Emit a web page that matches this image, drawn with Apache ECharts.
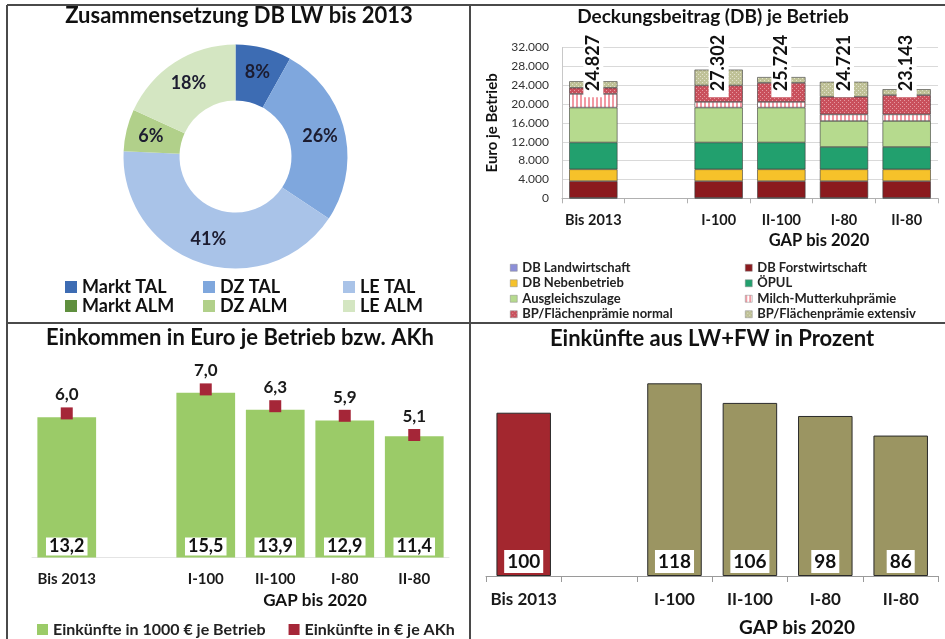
<!DOCTYPE html>
<html>
<head>
<meta charset="utf-8">
<script src="https://cdn.jsdelivr.net/npm/echarts@6/dist/echarts.min.js"></script>
<style>
  html, body { margin: 0; padding: 0; background: #fff; }
  #chart { width: 945px; height: 639px; }
</style>
</head>
<body>
<div id="chart"></div>
<script>
// Zusammensetzung DB LW bis 2013 (Prozent)
const anteilNamen = ['Markt TAL', 'DZ TAL', 'LE TAL', 'Markt ALM', 'DZ ALM', 'LE ALM'];
const anteilWerte = [8, 26, 41, 0, 6, 18];

// Deckungsbeitrag je Betrieb (Euro)
const kategorien = ['Bis 2013', '', 'I-100', 'II-100', 'I-80', 'II-80'];
const dbLandwirtschaft = [100, null, 100, 100, 100, 100];
const dbForst = [3550, null, 3550, 3550, 3550, 3550];
const dbNeben = [2500, null, 2500, 2500, 2500, 2500];
const oepul = [5700, null, 5700, 5700, 4750, 4750];
const ausgleich = [7400, null, 7400, 7400, 5500, 5500];
const milch = [2900, null, 1200, 1200, 1400, 1400];
const bpNormal = [1300, null, 3500, 4050, 3750, 4100];
const bpExtensiv = [1377, null, 3352, 1224, 3171, 1243];
const dbSumme = [24827, null, 27302, 25724, 24721, 23143];
const dbTicks = ['0', '4.000', '8.000', '12.000', '16.000', '20.000', '24.000', '28.000', '32.000'];

// Einkommen
const einkBetrieb = [13.2, null, 15.5, 13.9, 12.9, 11.4];
const einkAKh = [6.0, null, 7.0, 6.3, 5.9, 5.1];

// Einkuenfte in Prozent
const einkProzent = [100, null, 118, 106, 98, 86];

const schrift = 'Lato, "Open Sans", sans-serif';

function muster(grund, zeichnen) {
    const c = document.createElement('canvas');
    c.width = 4;
    c.height = 4;
    const ctx = c.getContext('2d');
    ctx.fillStyle = grund;
    ctx.fillRect(0, 0, 4, 4);
    zeichnen(ctx);
    return { image: c, repeat: 'repeat' };
}

const milchMuster = muster('#f29aa3', ctx => {
    ctx.fillStyle = '#ffffff';
    ctx.fillRect(2, 0, 2, 4);
});
const normalMuster = muster('#c9505c', ctx => {
    ctx.fillStyle = '#e59aa2';
    ctx.fillRect(0, 0, 1, 1);
    ctx.fillRect(2, 2, 1, 1);
});
const extensivMuster = muster('#bfc197', ctx => {
    ctx.fillStyle = '#e2e2cc';
    ctx.fillRect(0, 0, 1, 1);
    ctx.fillRect(2, 2, 1, 1);
});

const tausend = v => String(v).replace(/\B(?=(\d{3})+(?!\d))/g, '.');
const komma = v => v.toFixed(1).replace('.', ',');

const stapel = [
    ['DB Landwirtschaft', dbLandwirtschaft, '#8c8fd8'],
    ['DB Forstwirtschaft', dbForst, '#8b1a1e'],
    ['DB Nebenbetrieb', dbNeben, '#f6c22a'],
    ['ÖPUL', oepul, '#22a06e'],
    ['Ausgleichszulage', ausgleich, '#b6da8e'],
    ['Milch-Mutterkuhprämie', milch, milchMuster],
    ['BP/Flächenprämie normal', bpNormal, normalMuster],
    ['BP/Flächenprämie extensiv', bpExtensiv, extensivMuster]
];

const stapelSerien = stapel.map(([name, werte, farbe]) => ({
    name,
    type: 'bar',
    stack: 'db',
    xAxisIndex: 0,
    yAxisIndex: 0,
    barCategoryGap: '23%',
    data: werte,
    itemStyle: { color: farbe, borderColor: '#3a3a3a', borderWidth: 0.6 }
}));

const titel = (text, x, y, size) => ({
    text,
    left: x,
    top: y,
    textAlign: 'center',
    padding: 0,
    textStyle: { fontFamily: schrift, fontWeight: 'bold', fontSize: size, color: '#111' }
});

const gapText = (x, y, size) => ({
    type: 'text',
    style: {
        text: 'GAP bis 2020', x, y,
        textAlign: 'center', textVerticalAlign: 'middle',
        font: 'bold ' + size + 'px ' + schrift, fill: '#111'
    }
});

const linie = (x1, y1, x2, y2) => ({
    type: 'line',
    shape: { x1, y1, x2, y2 },
    style: { stroke: '#4a4a4a', lineWidth: 2 }
});

const kategorieAchse = (grid, farbe, tick, size, margin) => ({
    type: 'category',
    gridIndex: grid,
    data: kategorien,
    axisLine: { lineStyle: { color: farbe } },
    axisTick: { show: tick > 0, length: tick, lineStyle: { color: farbe } },
    axisLabel: { interval: 0, fontFamily: schrift, fontWeight: 'bold', fontSize: size, color: '#1a1a1a', margin }
});

const pieLegende = (namen, x) => ({
    orient: 'vertical',
    left: x,
    top: 277.5,
    padding: 0,
    itemWidth: 12,
    itemHeight: 12,
    itemGap: 0,
    itemTextGap: 7,
    icon: 'rect',
    data: namen,
    textStyle: { fontFamily: schrift, fontWeight: 'bold', fontSize: 18, color: '#111', lineHeight: 19 }
});

const dbLegende = (namen, x) => ({
    orient: 'vertical',
    left: x,
    top: 260,
    padding: 0,
    itemWidth: 7,
    itemHeight: 7,
    itemGap: 0,
    itemTextGap: 3,
    icon: 'rect',
    data: namen,
    itemStyle: { borderColor: '#888', borderWidth: 0.5 },
    textStyle: { fontFamily: schrift, fontWeight: 'bold', fontSize: 13, color: '#222', lineHeight: 15.5 }
});

const option = {
    animation: false,
    backgroundColor: '#fff',
    title: [
        titel('Zusammensetzung DB LW bis 2013', 239, 5, 22),
        titel('Deckungsbeitrag (DB) je Betrieb', 713, 7, 19),
        titel('Einkommen in Euro je Betrieb bzw. AKh', 240, 327, 22),
        titel('Einkünfte aus LW+FW in Prozent', 712, 328, 22)
    ],
    legend: [
        pieLegende(['Markt TAL', 'Markt ALM'], 65),
        pieLegende(['DZ TAL', 'DZ ALM'], 203),
        pieLegende(['LE TAL', 'LE ALM'], 343),
        dbLegende(['DB Landwirtschaft', 'DB Nebenbetrieb', 'Ausgleichszulage', 'BP/Flächenprämie normal'], 510),
        dbLegende(['DB Forstwirtschaft', 'ÖPUL', 'Milch-Mutterkuhprämie', 'BP/Flächenprämie extensiv'], 745),
        {
            left: 37,
            top: 620.5,
            padding: 0,
            itemWidth: 11,
            itemHeight: 11,
            itemGap: 23,
            itemTextGap: 4,
            icon: 'rect',
            data: ['Einkünfte in 1000 € je Betrieb', 'Einkünfte in € je AKh'],
            textStyle: { fontFamily: schrift, fontWeight: 'bold', fontSize: 16, color: '#222', lineHeight: 18 }
        }
    ],
    grid: [
        { left: 562, top: 47.5, width: 376, height: 150.8 },
        { left: 32, top: 345, width: 417, height: 212.4 },
        { left: 486, top: 347.4, width: 452.4, height: 228.6 }
    ],
    xAxis: [
        kategorieAchse(0, '#b0b0b0', 5, 14.5, 15),
        kategorieAchse(1, '#e4e4e4', 0, 15, 14),
        kategorieAchse(2, '#9a9a9a', 6, 17, 15)
    ],
    yAxis: [
        {
            type: 'value',
            gridIndex: 0,
            min: 0,
            max: 32000,
            interval: 4000,
            name: 'Euro je Betrieb',
            nameLocation: 'middle',
            nameGap: 62,
            nameTextStyle: { fontFamily: schrift, fontWeight: 'bold', fontSize: 15, color: '#111' },
            axisLine: { show: true, lineStyle: { color: '#c8c8c8' } },
            axisTick: { show: false },
            axisLabel: {
                fontFamily: schrift, fontSize: 12, color: '#333', margin: 13,
                formatter: (v, i) => dbTicks[i]
            },
            splitLine: { lineStyle: { color: '#d9d9d9' } }
        },
        { type: 'value', gridIndex: 1, min: 0, max: 20, show: false },
        { type: 'value', gridIndex: 1, min: 0, max: 8.85, show: false },
        { type: 'value', gridIndex: 2, min: 0, max: 140, show: false }
    ],
    series: [
        {
            name: 'Zusammensetzung',
            type: 'pie',
            center: [235.5, 156.5],
            radius: [56, 112],
            startAngle: 90,
            clockwise: true,
            data: anteilNamen.map((n, i) => ({ name: n, value: anteilWerte[i] })),
            color: ['#3d6cb3', '#7fa7dd', '#a9c3e8', '#5f8f3e', '#b1d08a', '#d4e6c2'],
            label: {
                position: 'inside',
                formatter: p => (p.value > 0 ? p.value + '%' : ''),
                fontFamily: schrift, fontWeight: 'bold', fontSize: 18, color: '#1c1c30'
            },
            labelLine: { show: false },
            emphasis: { disabled: true }
        },
        ...stapelSerien,
        {
            name: 'Summe',
            type: 'scatter',
            xAxisIndex: 0,
            yAxisIndex: 0,
            symbolSize: 0,
            z: 10,
            itemStyle: { opacity: 1 },
            data: dbSumme.map((s, i) => (s == null ? null : { value: [i, 28700], summe: s })),
            label: {
                show: true,
                position: 'inside',
                rotate: 90,
                formatter: p => tausend(p.data.summe),
                backgroundColor: '#fff',
                padding: [1, 6],
                fontFamily: schrift, fontWeight: 'bold', fontSize: 18, color: '#111'
            }
        },
        {
            name: 'Einkünfte in 1000 € je Betrieb',
            type: 'bar',
            xAxisIndex: 1,
            yAxisIndex: 1,
            barCategoryGap: '15.5%',
            data: einkBetrieb,
            itemStyle: { color: '#9bcb68' },
            label: {
                show: true,
                position: 'insideBottom',
                distance: 2,
                formatter: p => komma(p.value),
                backgroundColor: '#fff',
                padding: [0, 3],
                fontFamily: schrift, fontWeight: 'bold', fontSize: 18, color: '#111'
            }
        },
        {
            name: 'Einkünfte in € je AKh',
            type: 'scatter',
            xAxisIndex: 1,
            yAxisIndex: 2,
            symbol: 'rect',
            symbolSize: 12,
            z: 5,
            data: einkAKh,
            itemStyle: { color: '#a52638', opacity: 1 },
            label: {
                show: true,
                position: 'top',
                distance: 4,
                formatter: p => komma(p.value),
                fontFamily: schrift, fontWeight: 'bold', fontSize: 17, color: '#1a1a1a'
            }
        },
        {
            name: 'Prozent',
            type: 'bar',
            xAxisIndex: 2,
            yAxisIndex: 3,
            barCategoryGap: '27.7%',
            data: einkProzent.map((v, i) => ({
                value: v,
                itemStyle: { color: i === 0 ? '#a3272f' : '#9b9562' }
            })),
            itemStyle: { borderColor: '#2a2a2a', borderWidth: 1 },
            label: {
                show: true,
                position: 'insideBottom',
                distance: 3,
                backgroundColor: '#fff',
                padding: [2, 3],
                fontFamily: schrift, fontWeight: 'bold', fontSize: 19, color: '#111'
            }
        }
    ],
    graphic: [
        linie(7, 5, 945, 5),
        linie(7, 5, 7, 639),
        linie(470, 5, 470, 639),
        linie(7, 323, 945, 323),
        gapText(819, 241, 16.5),
        gapText(315, 601, 17),
        gapText(797, 628, 19)
    ]
};

const grafico = echarts.init(document.getElementById('chart'));
grafico.setOption(option);
</script>
</body>
</html>
